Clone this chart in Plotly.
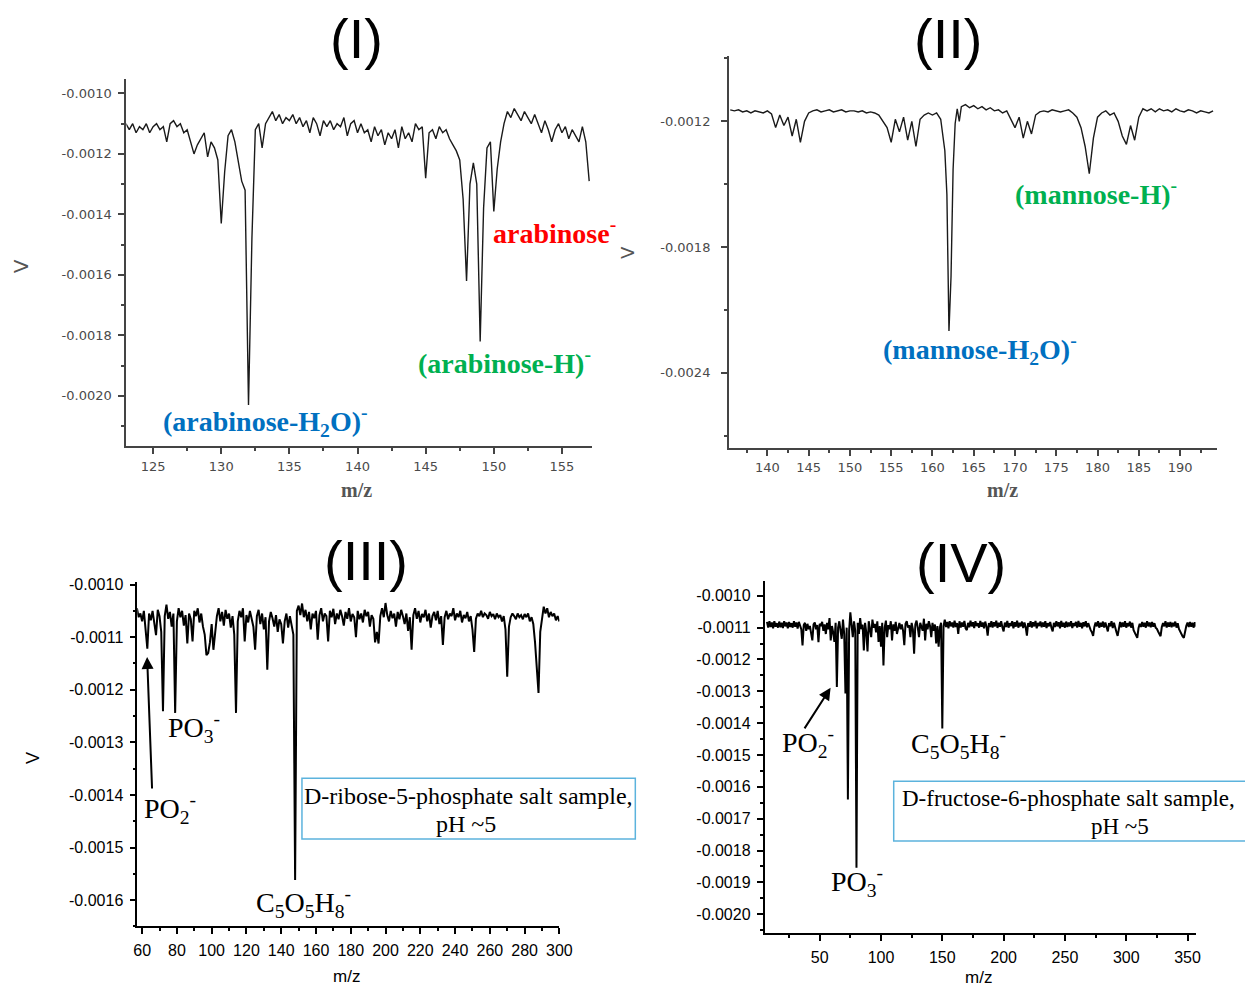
import plotly.graph_objects as go

# The page adds an 8px body margin on every side; size the figure so that
# the whole page is exactly 1253x994 (no scrollbars) and map reference
# pixel positions onto it.
OFF = 8
W, H = 1253 - 2 * OFF, 994 - 2 * OFF

# ---------------- DATA (V values in units of 1e-4 V) ----------------
# Panel I : arabinose
mz1 = [123.00,123.25,123.50,123.75,124.00,124.25,124.50,124.75,125.00,125.25,
       125.50,125.75,126.00,126.25,126.50,126.75,127.00,127.25,127.50,127.75,
       128.00,128.25,128.50,128.75,129.00,129.25,129.50,129.75,130.00,130.25,
       130.50,130.75,131.00,131.25,131.50,131.75,132.00,132.25,132.50,132.75,
       133.00,133.25,133.50,133.75,134.00,134.25,134.50,134.75,135.00,135.25,
       135.50,135.75,136.00,136.25,136.50,136.75,137.00,137.25,137.50,137.75,
       138.00,138.25,138.50,138.75,139.00,139.25,139.50,139.75,140.00,140.25,
       140.50,140.75,141.00,141.25,141.50,141.75,142.00,142.25,142.50,142.75,
       143.00,143.25,143.50,143.75,144.00,144.25,144.50,144.75,145.00,145.25,
       145.50,145.75,146.00,146.25,146.50,146.75,147.00,147.25,147.50,147.75,
       148.00,148.25,148.50,148.75,149.00,149.25,149.50,149.75,150.00,150.25,
       150.50,150.75,151.00,151.25,151.50,151.75,152.00,152.25,152.50,152.75,
       153.00,153.25,153.50,153.75,154.00,154.25,154.50,154.75,155.00,155.25,
       155.50,155.75,156.00,156.25,156.50,156.75,157.00]
v1 = [-11.0,-11.2,-11.0,-11.3,-11.1,-11.2,-11.0,-11.3,-11.1,-11.0,
      -11.2,-11.1,-11.6,-11.0,-10.9,-11.1,-11.0,-11.3,-11.2,-11.6,
      -12.0,-11.7,-11.5,-11.3,-12.1,-11.6,-11.8,-12.2,-14.3,-12.6,
      -11.4,-11.2,-11.6,-12.3,-12.9,-13.2,-20.3,-14.8,-11.2,-11.0,
      -11.8,-11.0,-10.8,-10.6,-10.9,-10.7,-11.0,-10.8,-10.9,-10.7,
      -11.0,-10.8,-11.1,-10.9,-11.3,-10.8,-11.0,-11.4,-10.9,-11.1,
      -10.9,-11.2,-11.0,-11.1,-10.8,-11.4,-11.0,-10.9,-11.3,-11.0,
      -11.3,-11.2,-11.6,-11.1,-11.4,-11.2,-11.7,-11.3,-11.5,-11.2,
      -11.8,-11.1,-11.5,-11.3,-11.6,-11.0,-11.2,-11.1,-12.8,-11.3,
      -11.2,-11.5,-11.1,-11.3,-11.2,-11.5,-11.7,-11.9,-12.2,-13.5,
      -16.2,-13.0,-12.3,-13.0,-18.2,-13.8,-11.8,-11.6,-13.9,-12.5,
      -11.6,-11.0,-10.6,-10.8,-10.5,-10.7,-10.9,-10.6,-10.8,-11.0,
      -10.7,-11.0,-11.3,-10.9,-11.2,-11.6,-11.2,-11.0,-11.3,-11.1,
      -11.5,-11.2,-11.4,-11.6,-11.1,-11.6,-12.9]

# Panel II : mannose
mz2 = [135.5,136.0,136.5,137.0,137.5,138.0,138.5,139.0,139.5,140.0,
       140.5,141.0,141.5,142.0,142.5,143.0,143.5,144.0,144.5,145.0,
       145.5,146.0,146.5,147.0,147.5,148.0,148.5,149.0,149.5,150.0,
       150.5,151.0,151.5,152.0,152.5,153.0,153.5,154.0,154.5,155.0,
       155.5,156.0,156.5,157.0,157.5,158.0,158.5,159.0,159.5,160.0,
       160.5,161.0,161.5,161.75,162.0,162.25,162.5,162.75,163.0,163.25,
       163.5,164.0,164.5,165.0,165.5,166.0,166.5,167.0,167.5,168.0,
       168.5,169.0,169.5,170.0,170.5,171.0,171.5,172.0,172.5,173.0,
       173.5,174.0,174.5,175.0,175.5,176.0,176.5,177.0,177.5,178.0,
       178.5,179.0,179.5,180.0,180.5,181.0,181.5,182.0,182.5,183.0,
       183.5,184.0,184.5,185.0,185.5,186.0,186.5,187.0,187.5,188.0,
       188.5,189.0,189.5,190.0,190.5,191.0,191.5,192.0,192.5,193.0,
       193.5,194.0]
v2 = [-11.45,-11.5,-11.45,-11.55,-11.5,-11.6,-11.5,-11.55,-11.6,-11.5,
      -11.65,-12.3,-11.7,-12.2,-11.8,-12.7,-11.9,-13.0,-12.0,-11.6,
      -11.5,-11.45,-11.55,-11.5,-11.45,-11.55,-11.5,-11.45,-11.55,-11.5,
      -11.5,-11.55,-11.5,-11.6,-11.55,-11.6,-11.7,-12.0,-12.3,-13.0,
      -11.9,-12.5,-11.8,-12.9,-12.0,-13.2,-11.9,-11.7,-11.6,-11.7,
      -11.6,-11.9,-13.4,-15.5,-22.0,-19.4,-14.3,-12.1,-11.4,-12.0,
      -11.3,-11.2,-11.35,-11.25,-11.4,-11.3,-11.45,-11.35,-11.5,-11.45,
      -11.6,-11.5,-11.9,-12.3,-11.8,-12.8,-12.0,-12.6,-11.7,-11.55,
      -11.5,-11.55,-11.45,-11.5,-11.55,-11.5,-11.45,-11.6,-11.8,-12.3,
      -13.2,-14.5,-12.8,-11.8,-11.6,-11.5,-11.7,-11.6,-12.0,-12.7,
      -13.1,-12.2,-12.9,-11.8,-11.4,-11.5,-11.4,-11.55,-11.4,-11.5,
      -11.45,-11.55,-11.4,-11.5,-11.55,-11.45,-11.5,-11.6,-11.5,-11.55,
      -11.6,-11.5]

# Panel III : D-ribose-5-phosphate (m/z 57 ... 300, step 1)
mz3 = list(range(57, 301))
v3 = [-10.45,-10.62,-10.55,-10.70,-10.50,-10.85,-11.22,-10.55,-10.68,-10.50,
      -10.75,-10.96,-10.48,-10.60,-10.90,-12.41,-10.60,-10.38,-10.65,-10.52,
      -10.80,-10.55,-12.44,-10.70,-10.45,-10.62,-10.50,-10.78,-10.58,-11.12,
      -10.55,-10.66,-11.08,-10.50,-10.60,-10.45,-10.72,-10.55,-10.80,-10.95,
      -11.34,-11.30,-11.10,-10.75,-11.24,-10.85,-10.60,-10.45,-10.70,-10.52,
      -10.78,-10.48,-10.65,-10.55,-10.82,-10.60,-10.95,-12.44,-10.70,-10.50,
      -10.62,-10.45,-11.08,-10.58,-10.72,-10.50,-10.66,-10.80,-11.24,-10.60,
      -10.48,-10.75,-10.55,-10.85,-10.62,-11.62,-10.70,-10.52,-10.64,-10.80,
      -10.58,-10.90,-10.66,-10.75,-11.12,-10.70,-10.55,-10.82,-10.60,-10.75,
      -10.95,-15.62,-10.50,-10.40,-10.58,-10.36,-10.62,-10.48,-10.70,-10.52,
      -10.85,-10.55,-10.64,-10.50,-11.05,-10.58,-10.45,-10.70,-10.55,-10.60,
      -11.08,-10.50,-10.62,-10.46,-10.75,-10.55,-10.66,-10.48,-10.60,-10.78,
      -10.52,-10.65,-10.45,-10.70,-10.56,-10.62,-11.00,-10.50,-10.66,-10.55,
      -10.72,-10.48,-10.60,-10.52,-10.80,-10.58,-10.65,-11.10,-10.90,-11.12,
      -10.60,-10.45,-10.62,-10.35,-10.58,-10.70,-10.50,-10.64,-10.55,-10.80,
      -10.52,-10.66,-10.48,-10.60,-10.75,-10.55,-10.88,-10.62,-11.24,-10.58,
      -10.45,-10.65,-10.50,-10.72,-10.56,-10.62,-10.48,-10.70,-10.55,-10.82,
      -10.60,-10.52,-10.68,-10.50,-10.75,-10.60,-11.15,-10.62,-10.50,-10.66,
      -10.55,-10.60,-10.45,-10.68,-10.55,-10.62,-10.50,-10.72,-10.58,-10.64,
      -10.52,-10.70,-10.60,-10.85,-11.28,-10.65,-10.55,-10.60,-10.50,-10.62,
      -10.55,-10.58,-10.65,-10.52,-10.60,-10.56,-10.66,-10.55,-10.62,-10.58,
      -10.70,-10.60,-10.85,-11.75,-10.80,-10.62,-10.55,-10.60,-10.66,-10.55,
      -10.62,-10.58,-10.66,-10.56,-10.62,-10.55,-10.70,-10.62,-10.75,-11.10,
      -11.60,-12.06,-10.90,-10.60,-10.42,-10.55,-10.45,-10.62,-10.52,-10.60,
      -10.55,-10.68,-10.60,-10.70]

# Panel IV : D-fructose-6-phosphate (m/z 7 ... 358, step 1)
mz4 = list(range(7, 359))
v4 = [-10.82,-11.00,-10.80,-10.98,-10.84,-11.02,-10.80,-10.97,-10.86,-11.00,
      -10.81,-10.99,-10.85,-11.01,-10.80,-10.96,-10.84,-11.02,-10.82,-10.98,
      -10.86,-11.00,-10.80,-10.97,-10.84,-11.03,-10.82,-10.98,-11.05,-11.56,
      -10.92,-10.85,-11.10,-10.88,-11.05,-10.95,-11.20,-11.40,-10.90,-10.84,
      -11.05,-10.92,-11.46,-10.88,-10.95,-10.82,-11.10,-10.90,-11.20,-10.85,
      -11.05,-10.70,-11.40,-10.95,-11.15,-11.45,-10.85,-12.86,-11.00,-10.80,
      -11.10,-11.35,-10.75,-11.20,-13.07,-11.00,-16.40,-11.10,-10.52,-10.95,
      -11.30,-10.80,-11.10,-18.54,-10.85,-11.20,-10.70,-11.05,-10.90,-11.72,
      -10.85,-11.15,-11.75,-10.80,-11.05,-11.30,-10.75,-11.00,-10.88,-11.15,
      -10.80,-11.45,-10.95,-11.60,-10.85,-12.19,-11.00,-10.78,-11.30,-10.92,
      -11.05,-10.80,-11.40,-10.90,-11.10,-10.82,-11.20,-10.95,-10.85,-11.05,
      -10.90,-11.10,-11.55,-10.88,-10.80,-11.00,-10.92,-11.30,-10.85,-11.05,
      -11.82,-10.90,-10.78,-11.00,-11.30,-10.85,-10.95,-11.10,-10.72,-11.40,
      -10.88,-11.05,-10.80,-10.95,-11.30,-10.85,-11.10,-10.90,-11.50,-10.95,
      -11.60,-11.00,-10.85,-14.17,
      -10.95,-10.75,-10.98,-10.82,-11.02,-10.80,-10.96,-10.84,-11.00,-10.78,
      -10.98,-10.86,-11.20,-10.80,-11.00,-10.84,-10.97,-10.79,-11.02,-11.08,
      -10.85,-10.99,-10.78,-10.96,-10.83,-11.01,-10.80,-10.95,-10.86,-11.00,
      -10.79,-10.97,-10.84,-11.02,-10.81,-10.96,-11.25,-10.86,-10.98,-10.80,
      -11.00,-10.83,-10.96,-10.78,-11.01,-10.85,-10.97,-10.80,-10.99,-11.12,
      -10.84,-10.98,-10.79,-11.00,-10.86,-10.95,-10.80,-11.02,-10.83,-10.97,
      -10.78,-11.00,-10.85,-10.96,-10.81,-11.01,-10.84,-10.98,-11.25,-10.86,
      -10.97,-10.80,-11.00,-10.83,-10.96,-10.79,-11.02,-10.85,-10.95,-10.81,
      -10.99,-10.84,-10.97,-10.80,-11.01,-10.86,-10.96,-10.82,-11.00,-11.12,
      -10.85,-10.98,-10.80,-10.96,-10.83,-11.02,-10.79,-10.97,-10.85,-11.00,
      -10.81,-10.98,-10.84,-10.96,-10.80,-11.01,-10.86,-10.95,-10.82,-11.00,
      -10.79,-10.97,-10.85,-11.02,-10.83,-10.96,-10.80,-10.99,-10.86,-11.00,
      -11.08,-11.14,-11.26,-10.98,-10.84,-10.96,-10.80,-11.00,-10.85,-10.97,
      -10.81,-11.00,-10.84,-10.98,-11.12,-10.86,-10.96,-10.80,-11.01,-10.85,
      -11.06,-11.14,-11.26,-10.96,-10.82,-10.99,-10.84,-10.97,-10.80,-11.00,
      -10.86,-10.96,-10.81,-11.00,-10.85,-11.08,-11.18,-11.24,-11.32,-11.02,
      -10.88,-10.98,-10.82,-10.97,-10.85,-11.00,-10.80,-10.96,-10.84,-10.99,
      -10.82,-10.97,-10.86,-11.00,-11.04,-11.12,-11.20,-11.27,-10.98,-10.86,
      -10.96,-10.80,-11.00,-10.84,-10.97,-10.82,-10.99,-10.85,-10.96,-10.81,
      -11.00,-10.86,-11.04,-11.12,-11.22,-11.28,-11.32,-11.06,-10.94,-10.84,
      -10.98,-10.82,-10.97,-10.85,-11.00,-10.83,-10.96,-10.88]

# tick labels
y1_ticks = [-0.0010, -0.0012, -0.0014, -0.0016, -0.0018, -0.0020]
y1_text = ["-0.0010", "-0.0012", "-0.0014", "-0.0016", "-0.0018", "-0.0020"]
x1_ticks = [125, 130, 135, 140, 145, 150, 155]
y2_ticks = [-0.0012, -0.0018, -0.0024]
y2_text = ["-0.0012", "-0.0018", "-0.0024"]
x2_ticks = [140, 145, 150, 155, 160, 165, 170, 175, 180, 185, 190]
y3_ticks = [-0.0010, -0.0011, -0.0012, -0.0013, -0.0014, -0.0015, -0.0016]
y3_text = ["-0.0010", "-0.0011", "-0.0012", "-0.0013", "-0.0014", "-0.0015", "-0.0016"]
x3_ticks = [60, 80, 100, 120, 140, 160, 180, 200, 220, 240, 260, 280, 300]
y4_ticks = [-0.0010, -0.0011, -0.0012, -0.0013, -0.0014, -0.0015, -0.0016,
            -0.0017, -0.0018, -0.0019, -0.0020]
y4_text = ["-0.0010", "-0.0011", "-0.0012", "-0.0013", "-0.0014", "-0.0015",
           "-0.0016", "-0.0017", "-0.0018", "-0.0019", "-0.0020"]
x4_ticks = [50, 100, 150, 200, 250, 300, 350]

SCALE = 1e-4


def px(x):
    return (x - OFF) / W


def py(y):
    return 1 - (y - OFF) / H


fig = go.Figure()
line_thin = dict(color="#1a1a1a", width=1.4)
line_thick = dict(color="black", width=2.0)
fig.add_trace(go.Scatter(x=mz1, y=[v * SCALE for v in v1], mode="lines",
                         line=line_thin, xaxis="x", yaxis="y"))
fig.add_trace(go.Scatter(x=mz2, y=[v * SCALE for v in v2], mode="lines",
                         line=line_thin, xaxis="x2", yaxis="y2"))
fig.add_trace(go.Scatter(x=mz3, y=[v * SCALE for v in v3], mode="lines",
                         line=line_thick, xaxis="x3", yaxis="y3"))
fig.add_trace(go.Scatter(x=mz4, y=[v * SCALE for v in v4], mode="lines",
                         line=line_thick, xaxis="x4", yaxis="y4"))

small_font = dict(family="DejaVu Sans", size=13, color="#4a4a4a")
big_font = dict(family="Liberation Sans", size=16, color="black")


def axis(domain, rng, anchor, tickvals, ticktext, minor_dtick, minor_tick0,
         font, lc, lw, standoff):
    return dict(domain=domain, range=rng, anchor=anchor, showgrid=False,
                zeroline=False, showline=True, linecolor=lc, linewidth=lw,
                ticks="outside", ticklen=6, tickwidth=lw, tickcolor=lc,
                tickmode="array", tickvals=tickvals, ticktext=ticktext,
                tickfont=font, ticklabelstandoff=standoff,
                minor=dict(ticks="outside", ticklen=3, tickwidth=lw,
                           tickcolor=lc, dtick=minor_dtick, tick0=minor_tick0,
                           showgrid=False))


fig.update_layout(
    width=W, height=H, margin=dict(l=0, r=0, t=0, b=0),
    paper_bgcolor="white", plot_bgcolor="white", showlegend=False,
    xaxis=axis([px(124), px(596)], [123.04, 157.2], "y", x1_ticks,
               [str(t) for t in x1_ticks], 2.5, 122.5, small_font, "#444", 2, 1),
    yaxis=axis([py(443), py(73)], [-0.002167, -0.000951], "x", y1_ticks,
               y1_text, 0.0001, -0.0010, small_font, "#444", 2, 4),
    xaxis2=axis([px(735), px(1230)], [135.35, 194.5], "y2", x2_ticks,
                [str(t) for t in x2_ticks], 2.5, 137.5, small_font, "#444", 2, 0),
    yaxis2=axis([py(445), py(50)], [-0.00276, -0.000887], "x2", y2_ticks,
                y2_text, 0.0003, -0.0012, small_font, "#444", 2, 8),
    xaxis3=axis([px(135), px(563)], [57.2, 300], "y3", x3_ticks,
                [str(t) for t in x3_ticks], 10, 60, big_font, "black", 1.5, 3),
    yaxis3=axis([py(926), py(580)], [-0.00165, -0.000996], "x3", y3_ticks,
                y3_text, 0.00005, -0.0010, big_font, "black", 1.5, 3),
    xaxis4=axis([px(771), px(1208)], [5, 356.5], "y4", x4_ticks,
                [str(t) for t in x4_ticks], 25, 0, big_font, "black", 1.5, 3),
    yaxis4=axis([py(933), py(578)], [-0.00206, -0.000952], "x4", y4_ticks,
                y4_text, 0.00005, -0.0010, big_font, "black", 1.5, 3),
)

ann = []


def text(x, y, s, size, color="black", family="Liberation Serif", angle=0,
         xanchor="center"):
    ann.append(dict(x=px(x), y=py(y), xref="paper", yref="paper", text=s,
                    showarrow=False, xanchor=xanchor, yanchor="middle",
                    textangle=angle,
                    font=dict(family=family, size=size, color=color)))


def arrow(hx, hy, tx, ty):
    ann.append(dict(x=px(hx), y=py(hy), xref="paper", yref="paper", text="",
                    showarrow=True, ax=tx - hx, ay=ty - hy, arrowhead=2,
                    arrowsize=1.2, arrowwidth=2, arrowcolor="black"))


# panel titles
text(357, 33, "(I)", 56, family="Liberation Sans")
text(957, 33, "(II)", 56, family="Liberation Sans")
text(367, 558, "(III)", 56, family="Liberation Sans")
text(970, 560, "(IV)", 56, family="Liberation Sans")

# axis titles
text(18, 262, "V", 20, color="#555", family="DejaVu Sans", angle=-90)
text(632, 248, "V", 18, color="#555", family="DejaVu Sans", angle=-90)
text(30, 757, "V", 18, family="Liberation Sans", angle=-90)
text(357, 487, "<b>m/z</b>", 20, color="#555")
text(1012, 487, "<b>m/z</b>", 20, color="#555")
text(347, 976, "m/z", 17, family="Liberation Sans")
text(988, 977, "m/z", 17, family="Liberation Sans")

# panel I & II labels
RED, GREEN, BLUE = "#ff0000", "#00b050", "#0070c0"
text(558, 227, "<b>arabinose<sup>-</sup></b>", 28, RED)
text(507, 358, "<b>(arabinose-H)<sup>-</sup></b>", 28, GREEN)
text(265, 418, "<b>(arabinose-H<sub>2</sub>O)<sup>-</sup></b>", 28, BLUE)
text(1107, 188, "<b>(mannose-H)<sup>-</sup></b>", 28, GREEN)
text(989, 346, "<b>(mannose-H<sub>2</sub>O)<sup>-</sup></b>", 28, BLUE)

# panel III labels
text(193, 726, "PO<sub>3</sub><sup>-</sup>", 28)
text(168, 807, "PO<sub>2</sub><sup>-</sup>", 28)
text(304, 902, "C<sub>5</sub>O<sub>5</sub>H<sub>8</sub><sup>-</sup>", 28)
arrow(145, 655, 150, 788)
text(471, 795, "D-ribose-5-phosphate salt sample,", 24)
text(468, 823, "pH ~5", 24)

# panel IV labels
text(815, 741, "PO<sub>2</sub><sup>-</sup>", 28)
text(865, 881, "PO<sub>3</sub><sup>-</sup>", 28)
text(968, 742, "C<sub>5</sub>O<sub>5</sub>H<sub>8</sub><sup>-</sup>", 28)
arrow(838, 686, 811, 728)
text(1079, 797, "D-fructose-6-phosphate salt sample,", 23)
text(1131, 826, "pH ~5", 23)

fig.update_layout(annotations=ann)

BOX = "#5cb3dd"
fig.add_shape(type="rect", xref="paper", yref="paper", x0=px(302), x1=px(640),
              y0=py(838), y1=py(777), line=dict(color=BOX, width=1.5))
fig.add_shape(type="rect", xref="paper", yref="paper", x0=px(902), x1=px(1262),
              y0=py(840), y1=py(780), line=dict(color=BOX, width=1.5))

fig.write_html("out.html")
